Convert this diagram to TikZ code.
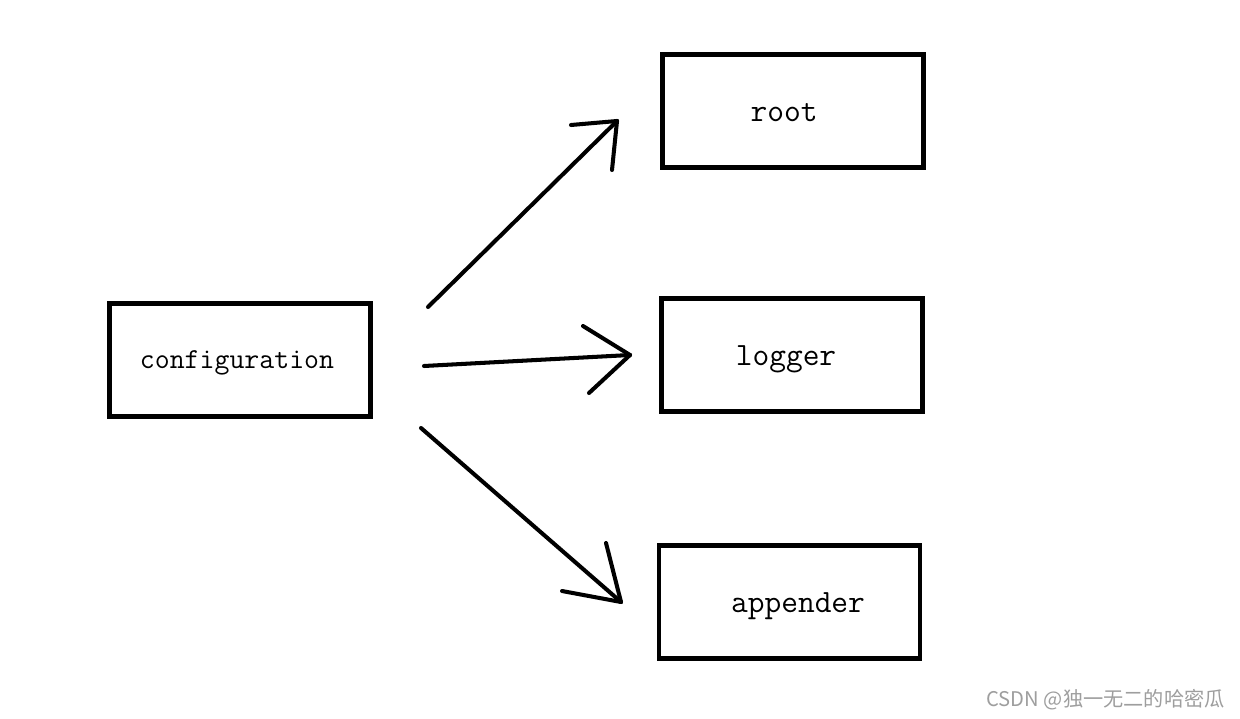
\documentclass[tikz,border=0pt]{standalone}
\usepackage{fontspec}
\newfontfamily\cjk{Noto Sans CJK SC}
\usetikzlibrary{positioning}
\tikzset{
	box/.style={draw,line width=2.5pt,minimum width=5.22cm,minimum height=2.26cm,inner sep=0pt},
	hand/.style={line width=2.3pt,line cap=round,line join=round}
}
\begin{document}
\begin{tikzpicture}[x=0.02cm,y=-0.02cm]
			\useasboundingbox (0,0) rectangle (1240,719);
			\node[box] (config) at (240,360) {};
			\node[box] (root) at (793,111) {};
			\node[box] (logger) at (792,355) {};
			\node[box] (appender) at (789.5,602) {};
			\node[font=\ttfamily\fontsize{16.5}{18}\selectfont] (tconfig) at (237,363) {configuration};
			\node[font=\ttfamily\fontsize{18.5}{20}\selectfont] (troot) at (784,113) {root};
			\node[font=\ttfamily\fontsize{18.5}{20}\selectfont] (tlogger) at (786,359) {logger};
			\node[font=\ttfamily\fontsize{18.5}{20}\selectfont] (tappender) at (798,606) {appender};
			% arrows
			\coordinate (s1) at (428,307);
			\coordinate (e1) at (617,121);
			\coordinate (s2) at (424,366);
			\coordinate (e2) at (630,355);
			\coordinate (s3) at (421,428);
			\coordinate (e3) at (621,602);
			\draw[hand] (s1) -- (e1);
			\draw[hand] (e1) -- ++(-46,4);
			\draw[hand] (e1) -- ++(-5,49);
			\draw[hand] (s2) -- (e2);
			\draw[hand] (e2) -- ++(-47,-29);
			\draw[hand] (e2) -- ++(-41,38);
			\draw[hand] (s3) -- (e3);
			\draw[hand] (e3) -- ++(-15,-59);
			\draw[hand] (e3) -- ++(-59,-11);
			\node[anchor=east,text=black!38,font=\cjk\fontsize{11.5}{13}\selectfont,inner sep=0pt] (mark) at (1225,700) {CSDN @独一无二的哈密瓜};
\end{tikzpicture}
\end{document}
